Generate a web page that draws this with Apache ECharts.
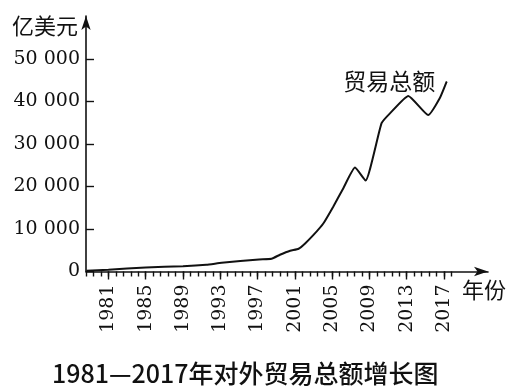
<!DOCTYPE html>
<html>
<head>
<meta charset="utf-8">
<script src="https://cdn.jsdelivr.net/npm/echarts@6/dist/echarts.min.js"></script>
<style>
  html, body { margin: 0; padding: 0; background: #fff; }
  #main { width: 517px; height: 387px; }
</style>
</head>
<body>
<div id="main"></div>
<script>
// 读图得到的折线位置（年份可带小数，按原图拐点位置）
const years = [1978.65, 1981, 1985, 1989, 1991.5, 1993.15, 1997.15, 1998.5, 1999.4, 2000.5,
  2001.4, 2002.1, 2003, 2004.05, 2005.1, 2006.2, 2007.45, 2008.58, 2010.3, 2011.2,
  2013.17, 2015.3, 2016.55, 2017.28]
const trade = [200, 420, 950, 1250, 1600, 2050, 2850, 3000, 3950, 4900,
  5350, 6600, 8600, 11300, 15200, 19600, 24450, 21400, 34900, 37200,
  41300, 36800, 40800, 44650]

const labelYears = [1981, 1985, 1989, 1993, 1997, 2001, 2005, 2009, 2013, 2017]
const yTicks = [0, 10000, 20000, 30000, 40000, 50000]
const yTickLabels = ['0', '10 000', '20 000', '30 000', '40 000', '50 000']

const serif = 'DejaVu Serif'
const cjk = 'Noto Sans CJK SC'

let myChart = echarts.init(document.getElementById('main'))

const lineData = years.map((y, i) => {
  const item = { value: [y, trade[i]] }
  if (i === years.length - 1) {
    item.symbol = 'circle'
    item.symbolSize = 1
    item.label = {
      show: true, position: 'left', distance: 11, formatter: '贸易总额',
      fontFamily: cjk, fontSize: 23, color: '#111'
    }
  }
  return item
})

myChart.setOption({
  animation: false,
  title: {
    text: '1981—2017年对外贸易总额增长图',
    left: 47,
    top: 356,
    textStyle: { fontFamily: cjk, fontSize: 25, fontWeight: 500, color: '#111' }
  },
  grid: [
    // 只画带箭头的坐标轴
    { left: 86, right: 29, top: 16, bottom: 115.5 },
    // 数据与刻度
    { left: 86, right: 65.5, top: 59, bottom: 115.5 }
  ],
  xAxis: [
    {
      gridIndex: 0, type: 'value', min: 0, max: 1,
      name: '年份', nameLocation: 'end', nameGap: -26,
      nameTextStyle: { fontFamily: cjk, fontSize: 22, color: '#111', align: 'left', verticalAlign: 'top', padding: [7, 0, 0, 0] },
      axisLine: { lineStyle: { color: '#111', width: 1.6 }, symbol: ['none', 'arrow'], symbolSize: [7, 14] },
      axisTick: { show: false }, axisLabel: { show: false }, splitLine: { show: false }
    },
    {
      gridIndex: 1, type: 'value', min: 1978.6, max: 2017.8, interval: 0.8,
      axisLine: { show: false },
      axisTick: { show: true, length: 5, lineStyle: { color: '#111', width: 1.4 } },
      axisLabel: {
        rotate: 90, margin: 13, fontFamily: serif, fontSize: 19, color: '#111',
        formatter: v => {
          const y = labelYears.find(d => Math.abs(d - v) < 0.01)
          return y ? String(y) : ''
        }
      },
      splitLine: { show: false }
    },
    {
      gridIndex: 1, type: 'value', min: 1978.6, max: 2017.8, position: 'bottom',
      axisLine: { show: false },
      axisTick: { show: true, length: 8, customValues: labelYears, lineStyle: { color: '#111', width: 1.4 } },
      axisLabel: { show: false },
      splitLine: { show: false }
    }
  ],
  yAxis: [
    {
      gridIndex: 0, type: 'value', min: 0, max: 1,
      name: '亿美元', nameLocation: 'end', nameGap: -10,
      nameTextStyle: { fontFamily: cjk, fontSize: 22, color: '#111', align: 'right', verticalAlign: 'middle', padding: [0, 8, 0, 0] },
      axisLine: { lineStyle: { color: '#111', width: 1.6 }, symbol: ['none', 'arrow'], symbolSize: [7, 14] },
      axisTick: { show: false }, axisLabel: { show: false }, splitLine: { show: false }
    },
    {
      gridIndex: 1, type: 'value', min: 0, max: 50000, interval: 10000,
      axisLine: { show: false },
      axisTick: { show: true, inside: true, length: 8, lineStyle: { color: '#111', width: 1.4 } },
      axisLabel: {
        margin: 6, fontFamily: serif, fontSize: 19, color: '#111',
        formatter: (v) => yTickLabels[yTicks.indexOf(v)]
      },
      splitLine: { show: false }
    }
  ],
  series: [
    {
      type: 'line',
      xAxisIndex: 1,
      yAxisIndex: 1,
      data: lineData,
      showSymbol: true,
      symbol: 'none',
      smooth: 0.15,
      lineStyle: { color: '#111', width: 2 },
      itemStyle: { color: '#111' }
    }
  ]
})
</script>
</body>
</html>
